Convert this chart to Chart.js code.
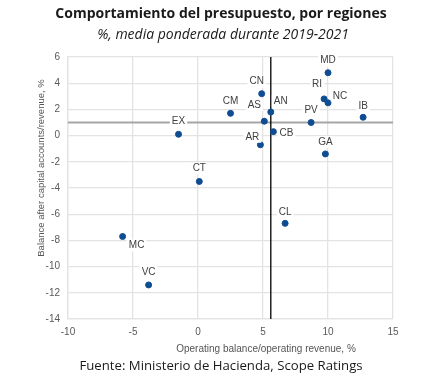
<!DOCTYPE html>
<html>
<head>
<meta charset="utf-8">
<script src="https://cdn.jsdelivr.net/npm/chart.js@4/dist/chart.umd.min.js"></script>
<style>
  body { margin: 0; background: #fff; }
  canvas { display: block; }
</style>
</head>
<body>
<canvas id="mycanvas" width="444" height="384"></canvas>
<script>
// regiones y valores (%, media 2019-2021)
var regiones = ['MD','CN','RI','NC','AN','AS','CM','PV','IB','EX','CB','AR','GA','CT','CL','MC','VC'];
var balanceOperativo = [10.0, 4.9, 9.7, 10.0, 5.6, 5.1, 2.5, 8.7, 12.7, -1.5, 5.8, 4.8, 9.8, 0.1, 6.7, -5.8, -3.8];
var balanceCapital = [4.8, 3.2, 2.8, 2.5, 1.8, 1.1, 1.7, 1.0, 1.4, 0.1, 0.3, -0.7, -1.4, -3.5, -6.7, -7.7, -11.4];
var mediaCapital = 1.0;
var mediaOperativo = 5.6;
var xTicks = [-10, -5, 0, 5, 10, 15];
var yTicks = [-14, -12, -10, -8, -6, -4, -2, 0, 2, 4, 6];

// desplazamiento de las etiquetas respecto al punto (px)
var offsets = {
	MD: [0,-12], CN: [-5,-12], RI: [-7,-15], NC: [12,-7], AN: [10,-11], AS: [-10,-16],
	CM: [0,-12], PV: [0,-12], IB: [0,-11], EX: [0,-13], CB: [13,2], AR: [-8,-8],
	GA: [0,-12], CT: [0,-13], CL: [0,-11], MC: [14,9], VC: [0,-13]
};

var puntos = [];
for (var i in regiones) {
	puntos.push({x: balanceOperativo[i], y: balanceCapital[i]});
}

var textos = {
	id: 'textos',
	afterDatasetsDraw: function(chart) {
		var ctx = chart.ctx;
		var meta = chart.getDatasetMeta(0);
		ctx.save();
		ctx.font = '10px "Liberation Sans", Arial, sans-serif';
		ctx.textAlign = 'center';
		ctx.textBaseline = 'middle';
		for (var i = 0; i < meta.data.length; i++) {
			var p = meta.data[i];
			var o = offsets[regiones[i]];
			var lx = p.x + o[0], ly = p.y + o[1];
			var w = ctx.measureText(regiones[i]).width;
			ctx.fillStyle = '#ffffff';
			ctx.fillRect(lx - w / 2 - 2, ly - 6, w + 4, 12);
			ctx.fillStyle = '#404040';
			ctx.fillText(regiones[i], lx, ly);
		}
		ctx.restore();
	},
	afterDraw: function(chart) {
		var ctx = chart.ctx;
		ctx.save();
		ctx.textAlign = 'center';
		ctx.textBaseline = 'middle';
		ctx.fillStyle = '#1a1a1a';
		ctx.font = 'bold 14px "Open Sans", sans-serif';
		ctx.fillText('Comportamiento del presupuesto, por regiones', 221, 14);
		ctx.font = 'italic 14px "Open Sans", sans-serif';
		ctx.fillText('%, media ponderada durante 2019-2021', 223, 35);
		ctx.font = '13.2px "Open Sans", sans-serif';
		ctx.fillText('Fuente: Ministerio de Hacienda, Scope Ratings', 221, 366);
		ctx.fillStyle = '#555555';
		ctx.font = '10px "Liberation Sans", Arial, sans-serif';
		ctx.fillText('Operating balance/operating revenue, %', 266, 349);
		ctx.font = '9.5px "Liberation Sans", Arial, sans-serif';
		ctx.translate(41, 168);
		ctx.rotate(-Math.PI / 2);
		ctx.fillText('Balance after capital accounts/revenue, %', 0, 0);
		ctx.restore();
	}
};

var chartdata = {
	datasets: [
		{
			data: puntos,
			backgroundColor: '#0e4d92',
			borderColor: '#0e4d92',
			pointRadius: 3,
			pointHoverRadius: 3
		},
		{
			type: 'line',
			data: [{x: mediaOperativo, y: -14}, {x: mediaOperativo, y: 6}],
			borderColor: '#000000',
			borderWidth: 1.3,
			pointRadius: 0
		},
		{
			type: 'line',
			data: [{x: -10.1, y: mediaCapital}, {x: 15, y: mediaCapital}],
			borderColor: '#a6a6a6',
			borderWidth: 2,
			pointRadius: 0
		}
	]
};

var options = {
	responsive: false,
	animation: false,
	layout: { padding: { top: 57, right: 51, bottom: 35, left: 0 } },
	plugins: {
		legend: { display: false },
		tooltip: { enabled: false }
	},
	scales: {
		x: {
			type: 'linear',
			min: xTicks[0],
			max: xTicks[xTicks.length - 1],
			afterBuildTicks: function(s) { s.ticks = xTicks.map(function(v) { return {value: v}; }); },
			afterFit: function(s) { s.height = 30; },
			grid: { color: '#e3e3e3', lineWidth: 1.3, drawTicks: false },
			border: { color: '#e3e3e3', width: 1.3 },
			ticks: { color: '#595959', padding: 7, font: { size: 10, family: '"Liberation Sans", Arial, sans-serif' } }
		},
		y: {
			type: 'linear',
			min: yTicks[0],
			max: yTicks[yTicks.length - 1],
			afterBuildTicks: function(s) { s.ticks = yTicks.map(function(v) { return {value: v}; }); },
			afterFit: function(s) { s.width = 68; },
			grid: { color: '#e3e3e3', lineWidth: 1.3, drawTicks: false },
			border: { color: '#e3e3e3', width: 1.3 },
			ticks: { color: '#595959', padding: 8, font: { size: 10, family: '"Liberation Sans", Arial, sans-serif' } }
		}
	}
};

var ctx = document.getElementById('mycanvas');
var scatter = new Chart(ctx, {
	type: 'scatter',
	data: chartdata,
	options: options,
	plugins: [textos]
});
</script>
</body>
</html>
